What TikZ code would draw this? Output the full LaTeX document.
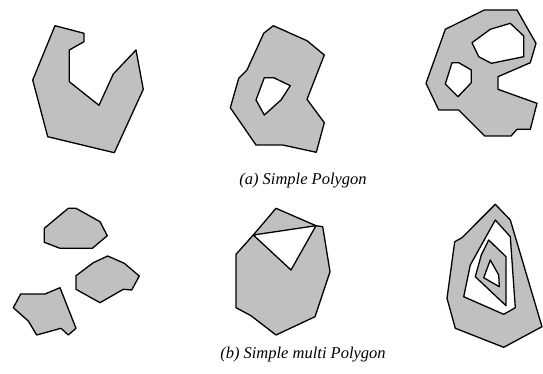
\documentclass[tikz,border=0pt]{standalone}
\usepackage{fontspec}
\setmainfont{Liberation Serif}
\usepackage{xcolor}
\usetikzlibrary{calc}
\definecolor{polygray}{RGB}{192,192,192}
\tikzset{
  poly/.style={draw=black,fill=polygray,line width=1.3pt,line join=round},
  hole/.style={draw=black,fill=white,line width=1.3pt,line join=round},
  caption/.style={font=\fontsize{16.5}{19}\selectfont\itshape,inner sep=0pt}
}

\begin{document}
\begin{tikzpicture}[x=1pt,y=-1pt]
  \useasboundingbox (0,0) rectangle (543,374);
  % (a) left: simple polygon
  \draw[poly] (55,25.7) -- (84,33.3) -- (84,41.7) -- (69.3,50) -- (69.3,81.7)
    -- (99,105.3) -- (113.3,74) -- (136,50) -- (143.3,89.3) -- (114.3,152.7)
    -- (47.7,136.7) -- (32.7,80) -- cycle;
  % (a) middle: polygon with one hole
  \draw[poly] (273.3,25.7) -- (307,40.7) -- (324.3,55) -- (307,99.3) -- (324.3,122.7)
    -- (316.3,152.3) -- (282.7,145) -- (256,145) -- (230.3,107.7) -- (238.7,78.3)
    -- (247,70) -- (263.7,33.3) -- cycle;
  \draw[hole] (264.3,77.7) -- (273.7,77.7) -- (290.3,85.7) -- (281,100) -- (264.3,115)
    -- (256,100) -- cycle;
  % (a) right: polygon with two holes
  \draw[poly] (484.3,10) -- (517,10) -- (536,43.3) -- (530.3,62.7) -- (498,76.7)
    -- (498,89.3) -- (537,103.3) -- (530.3,129.3) -- (517,129.3) -- (511,136)
    -- (484.7,136) -- (458.7,110) -- (438.7,110) -- (426,83.3) -- (445.3,29.3) -- cycle;
  \draw[hole] (472,42.7) -- (490.3,29.3) -- (510.3,23.3) -- (523.7,36) -- (523.7,56.7)
    -- (491.3,63.3) -- (478.7,56.7) -- cycle;
  \draw[hole] (452,62.7) -- (458.7,62.7) -- (471.3,70) -- (471.3,82.7) -- (458,96.7)
    -- (445.3,84) -- cycle;
  \node[caption] (capa) at (303,181) {(a) Simple Polygon};
  % (b) left: three separate parts
  \draw[poly] (68.3,208.3) -- (76,208.3) -- (100,221.7) -- (107.3,235.7) -- (92.3,248.3)
    -- (60,248.3) -- (44.3,242.3) -- (44.3,228.3) -- cycle;
  \draw[poly] (107.7,256) -- (124.3,263.3) -- (139.3,276) -- (131.7,290) -- (123.3,289.3)
    -- (100,302.7) -- (76,289.3) -- (76,275.7) -- (93.3,262.7) -- cycle;
  \draw[poly] (20.7,294) -- (45,294) -- (60,287.7) -- (76,328.3) -- (68.3,335)
    -- (61,328.3) -- (36.7,335) -- (28.3,321) -- (13.3,307.7) -- cycle;
  % (b) middle: polygon with a touching triangle hole
  \draw[poly] (276,208.3) -- (316,225.7) -- (322.7,226.7) -- (330,271.7) -- (315,316.7)
    -- (276,335) -- (251,315.7) -- (236,307.7) -- (236,254.3) -- (253.3,235) -- cycle;
  \draw[hole] (253.3,235) -- (316,225.7) -- (291,270) -- cycle;
  % (b) right: nested rings
  \draw[poly] (495.3,204.3) -- (510.3,220) -- (542,326.7) -- (503.7,347.3) -- (455.3,328.3)
    -- (447,298.3) -- (454.7,241.7) -- (462,237.7) -- cycle;
  \draw[hole] (495.3,220) -- (510.3,236.7) -- (515.3,307.7) -- (503.7,314.3) -- (463.7,296.7)
    -- (470.3,265) -- cycle;
  \draw[poly] (488.7,240) -- (506,256.7) -- (506,305.7) -- (475.3,276.7) -- (481.3,255) -- cycle;
  \draw[hole] (490.3,260) -- (498.7,275) -- (499.3,286.7) -- (483.7,277.7) -- cycle;
  \node[caption] (capb) at (303,355) {(b) Simple multi Polygon};
\end{tikzpicture}
\end{document}
